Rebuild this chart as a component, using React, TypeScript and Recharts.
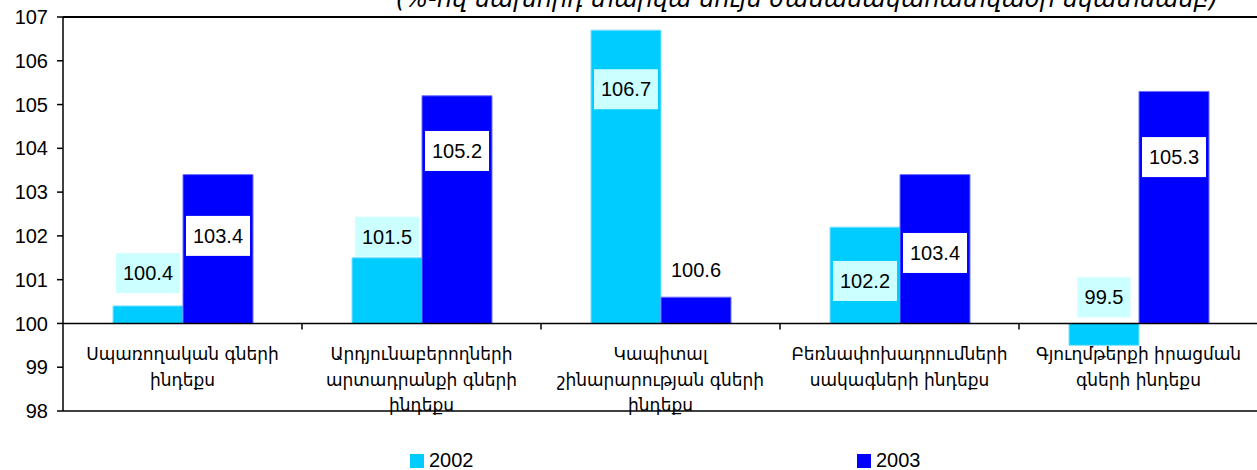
import { BarChart, Bar, XAxis, YAxis, ReferenceLine, LabelList } from 'recharts';

const CATEGORIES = [
  ['Սպառողական գների', 'ինդեքս'],
  ['Արդյունաբերողների', 'արտադրանքի գների', 'ինդեքս'],
  ['Կապիտալ', 'շինարարության գների', 'ինդեքս'],
  ['Բեռնափոխադրումների', 'սակագների ինդեքս'],
  ['Գյուղմթերքի իրացման', 'գների ինդեքս'],
];
const VALUES_2002 = [100.4, 101.5, 106.7, 102.2, 99.5];
const VALUES_2003 = [103.4, 105.2, 100.6, 103.4, 105.3];
const BASE = 100;
const Y_TICKS = [98, 99, 100, 101, 102, 103, 104, 105, 106, 107];
const TITLE = '(%-ով նախորդ տարվա նույն ժամանակահատվածի նկատմամբ)';

// where each value label sits (in axis units)
const LABEL_AT_2002 = [101.15, 101.98, 105.35, 100.97, 100.6];
const LABEL_AT_2003 = [102.0, 103.94, 101.22, 101.61, 103.8];

const W = 1260, H = 470;
const TOP = 17, PLOT_H = 394, LEFT = 63;
const Y_MIN = 98, Y_MAX = 107;
const yPx = (v: number) => TOP + ((Y_MAX - v) / (Y_MAX - Y_MIN)) * PLOT_H;
const BAND = (W - 2 - LEFT) / CATEGORIES.length;

const CYAN = '#00CCFF';
const BLUE = '#0000FF';
const ARIAL = '"Liberation Sans", Arial, sans-serif';
const ARM = '"DejaVu Sans", sans-serif';

const data = CATEGORIES.map((c, i) => ({
  name: c.join(' '),
  y2002: [BASE, VALUES_2002[i]],
  y2003: [BASE, VALUES_2003[i]],
}));

const makeLabel = (values: number[], at: number[], bg: string) => (props: any) => {
  const { x, width, index } = props;
  const text = values[index].toFixed(1);
  const digits = text.replace('.', '').length;
  const w = digits * 11.12 + 5.56 + 14;
  const cx = x + width / 2;
  const cy = yPx(at[index]);
  return (
    <g>
      <rect x={cx - w / 2} y={cy - 20} width={w} height={40} fill={bg} />
      <text x={cx} y={cy} textAnchor="middle" dominantBaseline="central" fontFamily={ARIAL} fontSize={20} fill="#000">
        {text}
      </text>
    </g>
  );
};

const CatTick = (props: any) => {
  const { x, index } = props;
  const y0 = yPx(BASE);
  const lines: string[] = CATEGORIES[index] || [];
  return (
    <g>
      <line x1={x + BAND / 2} x2={x + BAND / 2} y1={y0} y2={y0 + 6} stroke="#000" strokeWidth={1.5} />
      {lines.map((l, i) => (
        <text key={i} x={x} y={y0 + 37 + i * 25.5} textAnchor="middle" fontFamily={ARM} fontSize={17} fill="#000">
          {l}
        </text>
      ))}
    </g>
  );
};

export default function App() {
  return (
    <div style={{ position: 'fixed', left: 0, top: 0, width: 1257, height: 470, overflow: 'hidden', background: '#fff' }}>
      <BarChart width={W} height={H} data={data} margin={{ top: TOP, right: 2, bottom: 0, left: 0 }} barGap={0} barSize={70}>
        <XAxis dataKey="name" height={H - TOP - PLOT_H} interval={0} tickLine={false} axisLine={{ stroke: '#000', strokeWidth: 1.5 }} tick={<CatTick />} />
        <YAxis
          width={LEFT}
          domain={[Y_MIN, Y_MAX]}
          ticks={Y_TICKS}
          allowDataOverflow
          tickSize={6}
          tickMargin={9}
          axisLine={{ stroke: '#000', strokeWidth: 1.5 }}
          tickLine={{ stroke: '#000', strokeWidth: 1.5 }}
          tick={{ fill: '#000', fontSize: 20, fontFamily: ARIAL }}
        />
        <Bar dataKey="y2002" fill={CYAN} stroke="#7FE0FF" strokeWidth={1} isAnimationActive={false}>
          <LabelList dataKey="y2002" content={makeLabel(VALUES_2002, LABEL_AT_2002, '#CCFFFF')} />
        </Bar>
        <Bar dataKey="y2003" fill={BLUE} stroke="#7070FF" strokeWidth={1} isAnimationActive={false}>
          <LabelList dataKey="y2003" content={makeLabel(VALUES_2003, LABEL_AT_2003, '#FFFFFF')} />
        </Bar>
        <ReferenceLine y={BASE} stroke="#000" strokeWidth={1.5} />
        <ReferenceLine y={Y_MAX} stroke="#000" strokeWidth={2} />
      </BarChart>
      <svg style={{ position: 'absolute', left: 0, top: 0 }} width={1257} height={14}>
        <text x={807} y={7} textAnchor="middle" fontFamily={ARM} fontStyle="italic" fontSize={24} fill="#000">
          {TITLE}
        </text>
      </svg>
      <div style={{ position: 'absolute', left: 410, top: 454, width: 14, height: 14, background: CYAN }} />
      <div style={{ position: 'absolute', left: 429, top: 449, fontFamily: ARIAL, fontSize: 20, color: '#000' }}>2002</div>
      <div style={{ position: 'absolute', left: 857, top: 454, width: 14, height: 14, background: BLUE }} />
      <div style={{ position: 'absolute', left: 876, top: 449, fontFamily: ARIAL, fontSize: 20, color: '#000' }}>2003</div>
    </div>
  );
}
